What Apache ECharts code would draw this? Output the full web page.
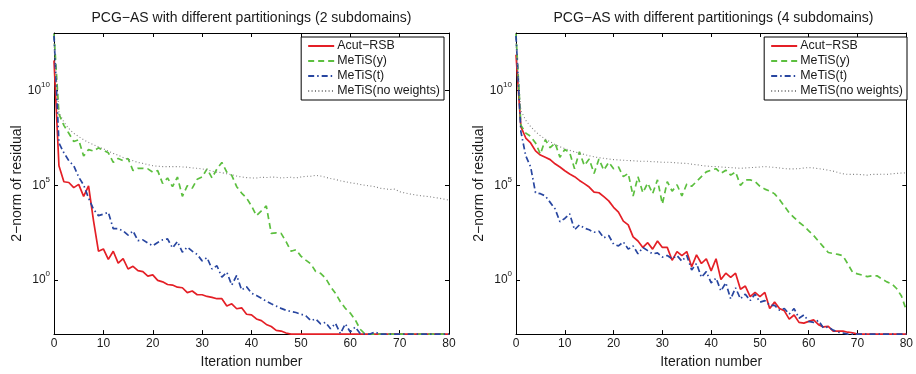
<!DOCTYPE html>
<html><head><meta charset="utf-8">
<script src="https://cdn.jsdelivr.net/npm/echarts@6/dist/echarts.min.js"></script>
<style>html,body{margin:0;padding:0;background:#fff}#c{width:916px;height:374px}</style>
</head><body><div id="c"></div>
<script>
// log10 of the 2-norm of the residual, iterations 0..80 (values at the axis floor are clipped in the original)
const seriesNames = ['Acut\u2212RSB', 'MeTiS(y)', 'MeTiS(t)', 'MeTiS(no weights)'];
const titles = ['PCG\u2212AS with different partitionings (2 subdomains)', 'PCG\u2212AS with different partitionings (4 subdomains)'];
const yTickExponents = [0, 5, 10];
const xTicks = [0, 10, 20, 30, 40, 50, 60, 70, 80];

const acut2 = [11.6, 6.04, 5.19, 5.15, 4.88, 5.05, 4.42, 4.97, 3.14, 1.52, 1.64, 1.09, 1.52, 0.89, 1.13, 0.58, 0.72, 0.49, 0.44, 0.20,
  0.27, -0.02, -0.10, -0.24, -0.27, -0.38, -0.41, -0.67, -0.58, -0.78, -0.78, -0.87, -0.92, -0.99, -0.99, -1.38, -1.26, -1.52, -1.47, -1.81,
  -1.84, -2.06, -2.15, -2.35, -2.46, -2.66, -2.70, -2.80, -2.86, -2.86, -2.86, -2.86, -2.86, -2.86, -2.86, -2.86, -2.86, -2.86, -2.86, -2.86,
  -2.86, -2.86, -2.86, -2.86, -2.86, -2.86, -2.86, -2.86, -2.86, -2.86, -2.86, -2.86, -2.86, -2.86, -2.86, -2.86, -2.86, -2.86, -2.86, -2.86, -2.86];
const metisY2 = [13.0, 8.77, 8.17, 7.75, 7.32, 7.41, 6.55, 6.89, 6.81, 6.98, 6.86, 6.72, 6.21, 6.42, 6.30, 6.42, 5.78, 5.90, 5.90, 5.87,
  5.70, 5.78, 5.10, 5.39, 4.93, 5.44, 4.42, 4.98, 4.85, 5.32, 5.44, 5.87, 5.39, 5.87, 6.21, 5.70, 5.53, 4.93, 4.59, 4.33,
  3.91, 3.40, 3.65, 3.91, 2.46, 2.49, 2.46, 2.03, 1.52, 1.60, 1.26, 1.05, 0.85, 0.45, 0.35, 0.10, -0.35, -0.70, -1.15, -1.50,
  -1.75, -2.10, -2.60, -2.86, -2.86, -2.86, -2.86, -2.86, -2.86, -2.86, -2.86, -2.86, -2.86, -2.86, -2.86, -2.86, -2.86, -2.86, -2.86, -2.86, -2.86];
const metisT2 = [12.9, 7.24, 6.72, 6.30, 6.04, 5.44, 5.02, 4.33, 3.74, 3.40, 3.48, 3.57, 2.71, 2.71, 2.59, 2.37, 2.59, 2.08, 2.12, 1.95,
  1.81, 1.98, 2.12, 2.17, 1.69, 2.03, 1.47, 1.74, 1.52, 1.35, 1.01, 1.18, 0.58, 0.75, 0.15, 0.41, -0.27, 0.24, -0.53, -0.36,
  -0.70, -0.82, -0.96, -1.13, -1.26, -1.38, -1.50, -1.60, -1.67, -1.72, -1.81, -1.89, -2.15, -2.06, -2.32, -2.24, -2.58, -2.29, -2.83, -2.32,
  -2.75, -2.49, -2.83, -2.86, -2.86, -2.75, -2.86, -2.86, -2.86, -2.86, -2.86, -2.86, -2.86, -2.86, -2.86, -2.86, -2.86, -2.86, -2.86, -2.86, -2.86];
const noWeights2 = [12.5, 8.86, 8.34, 8.00, 7.75, 7.58, 7.41, 7.27, 7.15, 7.03, 6.93, 6.81, 6.69, 6.59, 6.47, 6.38, 6.30, 6.21, 6.16, 6.09,
  6.04, 6.01, 5.99, 5.99, 5.99, 5.99, 5.97, 5.96, 5.92, 5.90, 5.87, 5.82, 5.75, 5.70, 5.67, 5.61, 5.56, 5.49, 5.44, 5.41,
  5.39, 5.39, 5.43, 5.41, 5.44, 5.43, 5.39, 5.41, 5.43, 5.39, 5.44, 5.48, 5.48, 5.53, 5.49, 5.43, 5.36, 5.31, 5.24, 5.19,
  5.14, 5.10, 5.05, 5.00, 4.97, 4.93, 4.85, 4.82, 4.78, 4.80, 4.66, 4.60, 4.55, 4.50, 4.46, 4.43, 4.40, 4.36, 4.32, 4.27, 4.22];

const acut4 = [11.9, 8.10, 7.50, 7.24, 6.82, 6.60, 6.48, 6.36, 6.14, 5.97, 5.77, 5.60, 5.46, 5.26, 5.09, 4.91, 4.64, 4.61, 4.40, 4.18,
  3.84, 3.59, 3.11, 2.91, 2.28, 2.06, 1.72, 1.97, 1.63, 2.06, 1.72, 1.72, 1.04, 1.50, 1.29, 1.50, 0.70, 1.33, 0.87, 1.12,
  0.48, 1.12, 0.02, 0.36, 0.14, 0.36, -0.49, -0.32, -0.88, -0.66, -0.88, -0.66, -1.51, -1.17, -1.51, -1.63, -2.07, -1.85, -2.24, -2.28,
  -2.19, -2.11, -2.36, -2.48, -2.45, -2.70, -2.70, -2.70, -2.76, -2.79, -2.86, -2.86, -2.86, -2.86, -2.86, -2.86, -2.86, -2.86, -2.86, -2.86, -2.86];
const metisY4 = [13.0, 8.18, 7.76, 7.59, 7.24, 6.65, 7.41, 6.99, 7.24, 6.48, 6.90, 6.73, 5.88, 6.77, 6.05, 6.39, 5.63, 6.39, 5.80, 6.22,
  5.88, 5.97, 5.46, 5.63, 4.44, 5.46, 4.61, 5.12, 4.56, 5.29, 4.01, 5.20, 4.69, 5.03, 4.44, 5.07, 4.95, 5.20, 5.46, 5.71,
  5.80, 5.88, 5.63, 5.80, 5.54, 5.71, 5.00, 5.29, 5.29, 5.20, 4.95, 4.80, 4.70, 4.55, 4.25, 3.90, 3.55, 3.30, 3.05, 2.85,
  2.60, 2.35, 2.05, 1.75, 1.45, 1.40, 1.35, 1.28, 0.85, 0.40, 0.32, 0.25, 0.18, 0.22, 0.22, 0.05, -0.10, -0.20, -0.45, -0.85, -1.60];
const metisT4 = [12.9, 7.84, 6.56, 5.97, 4.61, 4.56, 4.44, 4.10, 3.76, 3.08, 3.25, 3.50, 2.65, 2.91, 2.74, 2.65, 2.52, 2.57, 2.23, 2.35,
  1.89, 1.80, 2.01, 1.63, 1.80, 1.38, 1.72, 1.55, 1.38, 1.43, 1.21, 1.29, 1.12, 1.29, 0.99, 1.29, 0.53, 0.87, 0.14, 0.44,
  -0.15, 0.10, -0.58, -0.15, -1.00, -0.41, -1.00, -0.75, -1.09, -0.75, -1.17, -1.09, -1.34, -1.34, -1.60, -1.51, -1.80, -1.51, -2.02, -1.85,
  -2.19, -2.24, -2.14, -2.53, -2.48, -2.65, -2.76, -2.80, -2.86, -2.86, -2.86, -2.86, -2.86, -2.86, -2.86, -2.86, -2.86, -2.86, -2.86, -2.86, -2.86];
const noWeights4 = [12.5, 8.95, 8.44, 8.10, 7.84, 7.62, 7.45, 7.30, 7.16, 7.04, 6.94, 6.85, 6.77, 6.70, 6.63, 6.56, 6.51, 6.46, 6.43, 6.39,
  6.36, 6.34, 6.33, 6.31, 6.30, 6.28, 6.27, 6.27, 6.25, 6.24, 6.22, 6.22, 6.21, 6.19, 6.17, 6.16, 6.12, 6.09, 6.05, 6.02,
  6.00, 5.99, 5.97, 5.95, 5.94, 5.92, 5.90, 5.92, 5.94, 5.95, 5.97, 5.99, 5.97, 5.95, 5.92, 5.88, 5.87, 5.87, 5.88, 5.92,
  5.94, 5.92, 5.88, 5.85, 5.80, 5.75, 5.68, 5.61, 5.58, 5.58, 5.58, 5.56, 5.54, 5.58, 5.58, 5.59, 5.58, 5.61, 5.63, 5.65, 5.66];

const Y_MIN = -2.86, Y_MAX = 13.05;
const FONT = '"Liberation Sans", Arial, Helvetica, sans-serif';
const TXT = '#1a1a1a';

const styles = [
  { color: '#e41f26', width: 1.7, type: 'solid' },
  { color: '#5cbf3f', width: 1.7, type: [6, 4] },
  { color: '#2846a0', width: 1.7, type: [6, 3, 1.5, 3] },
  { color: '#808080', width: 1.1, type: [1, 2.4] }
];

const panels = [
  { grid: { left: 54, right: 467, top: 33, bottom: 30 }, data: [acut2, metisY2, metisT2, noWeights2], legendRight: 472, titleX: 251.5 },
  { grid: { left: 516, right: 5, top: 33, bottom: 30 }, data: [acut4, metisY4, metisT4, noWeights4], legendRight: 9, titleX: 713.5 }
];

const grid = [], xAxis = [], yAxis = [], series = [], legend = [], title = [];
panels.forEach((p, gi) => {
  grid.push(Object.assign({ containLabel: false }, p.grid));
  title.push({ text: titles[gi], left: p.titleX, top: 11, textAlign: 'center', padding: 0,
    textStyle: { fontFamily: FONT, fontSize: 14, fontWeight: 'normal', color: TXT } });
  const xBase = { type: 'value', gridIndex: gi, min: 0, max: 80, interval: 10,
    axisLine: { onZero: false, lineStyle: { color: '#000', width: 1 } },
    axisTick: { inside: true, length: 4, lineStyle: { color: '#000' } }, splitLine: { show: false } };
  xAxis.push(Object.assign({}, xBase, { position: 'bottom', name: 'Iteration number', nameLocation: 'middle', nameGap: 17,
    nameTextStyle: { fontFamily: FONT, fontSize: 14, color: TXT },
    axisLabel: { margin: 4, fontFamily: FONT, fontSize: 12, color: TXT, formatter: v => xTicks.includes(v) ? String(v) : '' } }));
  xAxis.push(Object.assign({}, xBase, { position: 'top', axisLabel: { show: false } }));
  const yBase = { type: 'value', gridIndex: gi, min: Y_MIN, max: Y_MAX,
    axisLine: { show: true, onZero: false, lineStyle: { color: '#000', width: 1 } },
    axisTick: { show: true, inside: true, length: 4, customValues: yTickExponents, lineStyle: { color: '#000' } },
    splitLine: { show: false } };
  yAxis.push(Object.assign({}, yBase, { position: 'left', name: '2\u2212norm of residual', nameLocation: 'middle', nameGap: 30,
    nameTextStyle: { fontFamily: FONT, fontSize: 14, color: TXT },
    axisLabel: { margin: 4, customValues: yTickExponents, formatter: v => '{b|10}{s|' + v + '}',
      rich: { b: { fontFamily: FONT, fontSize: 12, color: TXT, lineHeight: 20 },
              s: { fontFamily: FONT, fontSize: 8, color: TXT, verticalAlign: 'top', lineHeight: 9 } } } }));
  yAxis.push(Object.assign({}, yBase, { position: 'right', axisLabel: { show: false } }));
  p.data.forEach((vals, si) => {
    const st = styles[si];
    series.push({ type: 'line', name: seriesNames[si], xAxisIndex: gi * 2, yAxisIndex: gi * 2,
      data: vals.map((v, i) => [i, v]), symbol: 'none', showSymbol: false, clip: true, silent: true,
      color: st.color, lineStyle: { color: st.color, width: st.width, type: st.type } });
  });
  legend.push({ data: seriesNames, orient: 'vertical', right: p.legendRight, top: 37,
    padding: [3, 4, 3, 6], itemGap: 3, itemWidth: 26, itemHeight: 12,
    backgroundColor: '#fff', borderColor: '#000', borderWidth: 1, borderRadius: 0,
    itemStyle: { opacity: 0, borderWidth: 0 },
    textStyle: { fontFamily: FONT, fontSize: 12.4, color: TXT, padding: [0, 0, 0, -2] },
    selectedMode: false });
});

const chart = echarts.init(document.getElementById('c'), null, { renderer: 'canvas' });
chart.setOption({ animation: false, backgroundColor: '#fff', title, grid, xAxis, yAxis, series, legend });
</script></body></html>
